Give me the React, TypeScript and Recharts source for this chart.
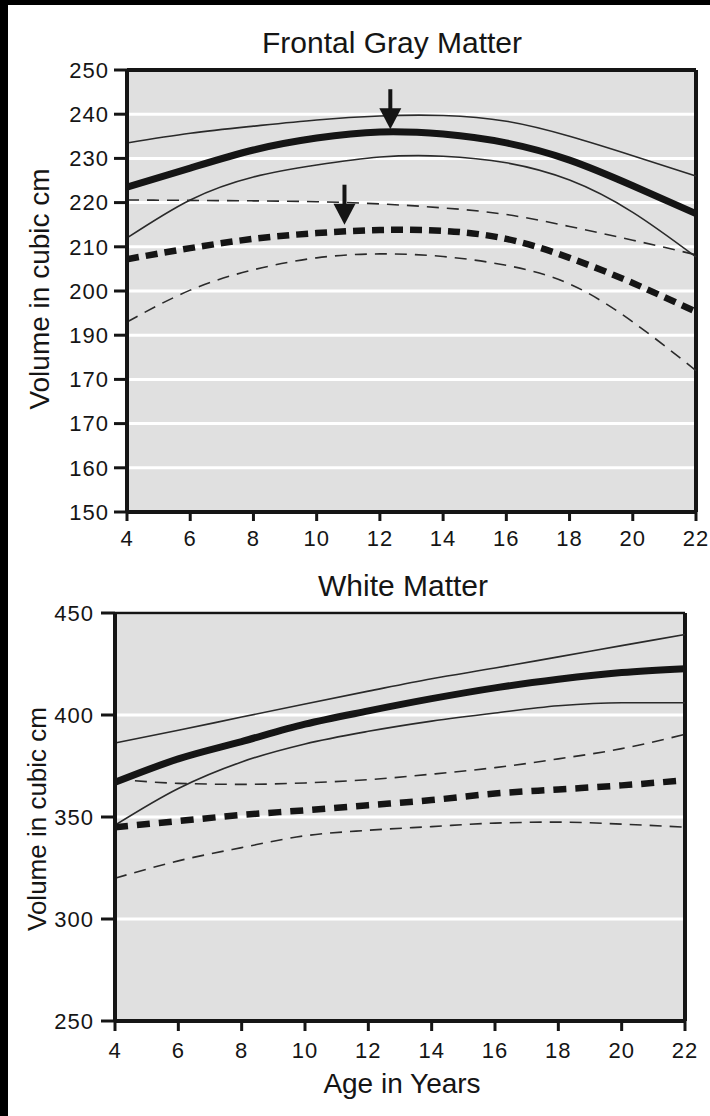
import React from 'react';
import { LineChart, Line, CartesianGrid, XAxis, YAxis, ReferenceLine, ReferenceDot } from 'recharts';

const FONT = '"Liberation Sans", Arial, Helvetica, sans-serif';
const INK = '#151515';

const ages = [4, 6, 8, 10, 12, 14, 16, 18, 20, 22];
const ageTicks = [4, 6, 8, 10, 12, 14, 16, 18, 20, 22];

// Frontal gray matter (cubic cm)
const grayMale = [223.5, 227.8, 231.9, 234.6, 236, 235.5, 233.5, 229.6, 223.8, 217.5];
const grayMaleUpper = [233.5, 235.7, 237.3, 238.7, 239.6, 239.7, 238.4, 235, 230.6, 226];
const grayMaleLower = [212, 220.6, 225.8, 228.5, 230.3, 230.5, 229, 225.1, 217.8, 207.7];
const grayFemale = [207.2, 209.7, 211.8, 213.1, 213.8, 213.6, 211.8, 207.5, 201.8, 195.3];
const grayFemaleUpper = [220.6, 220.5, 220.4, 220.2, 219.7, 218.8, 217.3, 214.6, 211.5, 208.2];
const grayFemaleLower = [193, 200.2, 204.8, 207.5, 208.4, 207.8, 205.8, 201.6, 193, 182];
const grayTicks = [150, 160, 170, 180, 190, 200, 210, 220, 230, 240, 250];
const grayTickLabels = ['150', '160', '170', '170', '190', '200', '210', '220', '230', '240', '250'];
const grayPeakAges = [12.33, 10.88];
const grayPeakValues = [236.6, 215];

// White matter (cubic cm)
const whiteMale = [367, 378.5, 387, 395.5, 402, 408, 413.3, 417.5, 420.8, 422.7];
const whiteMaleUpper = [386.3, 392.5, 399, 405.4, 411.7, 417.8, 423, 428.5, 434, 439.5];
const whiteMaleLower = [346, 364, 377, 385.8, 392, 397, 401, 404.5, 406, 406];
const whiteFemale = [345, 348, 351, 353.3, 355.8, 358.3, 361.5, 363.5, 365.5, 368];
const whiteFemaleUpper = [368.6, 366.5, 366, 366.7, 368.3, 371, 374.2, 378.5, 383.5, 390.5];
const whiteFemaleLower = [320, 328.5, 335, 340.8, 343.5, 345.3, 347, 347.5, 346.5, 345];
const whiteTicks = [250, 300, 350, 400, 450];

const grayData = ages.map((age, i) => ({
  age,
  male: grayMale[i],
  maleUpper: grayMaleUpper[i],
  maleLower: grayMaleLower[i],
  female: grayFemale[i],
  femaleUpper: grayFemaleUpper[i],
  femaleLower: grayFemaleLower[i]
}));

const whiteData = ages.map((age, i) => ({
  age,
  male: whiteMale[i],
  maleUpper: whiteMaleUpper[i],
  maleLower: whiteMaleLower[i],
  female: whiteFemale[i],
  femaleUpper: whiteFemaleUpper[i],
  femaleLower: whiteFemaleLower[i]
}));

const peaks = grayPeakAges.map((age, i) => ({ age, value: grayPeakValues[i] }));

const tickStyle = { fill: INK, fontSize: 22, fontFamily: FONT, letterSpacing: 1 };

const Arrow = (props: any) => {
  const { cx, cy } = props;
  return (
    <g>
      <line x1={cx} y1={cy - 40} x2={cx} y2={cy - 16} stroke={INK} strokeWidth={4} />
      <polygon points={`${cx - 11},${cy - 21} ${cx + 11},${cy - 21} ${cx},${cy}`} fill={INK} />
    </g>
  );
};

const renderLines = (curve: any, thick: number, thickDash: string, thinDash: string) => [
  <Line key="mu" dataKey="maleUpper" type={curve} stroke="#2a2a2a" strokeWidth={1.6} dot={false} isAnimationActive={false} />,
  <Line key="ml" dataKey="maleLower" type={curve} stroke="#2a2a2a" strokeWidth={1.6} dot={false} isAnimationActive={false} />,
  <Line key="fu" dataKey="femaleUpper" type={curve} stroke="#2a2a2a" strokeWidth={1.6} strokeDasharray={thinDash} dot={false} isAnimationActive={false} />,
  <Line key="fl" dataKey="femaleLower" type={curve} stroke="#2a2a2a" strokeWidth={1.6} strokeDasharray={thinDash} dot={false} isAnimationActive={false} />,
  <Line key="m" dataKey="male" type={curve} stroke={INK} strokeWidth={thick} dot={false} isAnimationActive={false} />,
  <Line key="f" dataKey="female" type={curve} stroke={INK} strokeWidth={thick - 0.5} strokeDasharray={thickDash} dot={false} isAnimationActive={false} />
];

const textBase: React.CSSProperties = {
  position: 'absolute',
  fontFamily: FONT,
  color: INK,
  lineHeight: 1,
  whiteSpace: 'nowrap',
  transform: 'translate(-50%, -50%)'
};

const App: React.FC = () => {
  return (
    <div style={{ position: 'relative', width: 710, height: 1116, background: '#000', overflow: 'hidden' }}>
      <style>{'body{margin:0}'}</style>
      <div style={{ position: 'absolute', left: 8, top: 5, right: 0, bottom: 0, background: '#fff' }} />

      <div style={{ ...textBase, left: 392, top: 43, fontSize: 30 }}>Frontal Gray Matter</div>
      <div style={{ ...textBase, left: 40, top: 289, fontSize: 28, transform: 'translate(-50%, -50%) rotate(-90deg)' }}>
        Volume in cubic cm
      </div>

      <div style={{ position: 'absolute', left: 0, top: 0 }}>
        <LineChart width={710} height={570} data={grayData} margin={{ top: 70, right: 14, bottom: 18, left: 67 }}>
          <CartesianGrid vertical={false} fill="#e0e0e0" stroke="#fff" strokeWidth={3} />
          <XAxis
            dataKey="age"
            type="number"
            domain={[4, 22]}
            ticks={ageTicks}
            interval={0}
            height={40}
            axisLine={{ stroke: INK, strokeWidth: 4 }}
            tickLine={{ stroke: INK, strokeWidth: 3 }}
            tickSize={9}
            tickMargin={9}
            tick={tickStyle}
          />
          <YAxis
            type="number"
            domain={[150, 250]}
            ticks={grayTicks}
            interval={0}
            width={60}
            tickFormatter={(v) => grayTickLabels[grayTicks.indexOf(v)]}
            axisLine={{ stroke: INK, strokeWidth: 4 }}
            tickLine={{ stroke: INK, strokeWidth: 3 }}
            tickSize={13}
            tickMargin={5}
            tick={tickStyle}
          />
          <ReferenceLine y={250} stroke={INK} strokeWidth={4} />
          <ReferenceLine x={22} stroke={INK} strokeWidth={4} />
          {renderLines('natural', 7, '12 7', '12 8')}
          {peaks.map((p) => (
            <ReferenceDot key={p.age} x={p.age} y={p.value} shape={Arrow} />
          ))}
        </LineChart>
      </div>

      <div style={{ ...textBase, left: 403, top: 586, fontSize: 30 }}>White Matter</div>
      <div style={{ ...textBase, left: 37, top: 819, fontSize: 26, transform: 'translate(-50%, -50%) rotate(-90deg)' }}>
        Volume in cubic cm
      </div>
      <div style={{ ...textBase, left: 402, top: 1084, fontSize: 28 }}>Age in Years</div>

      <div style={{ position: 'absolute', left: 0, top: 570 }}>
        <LineChart width={710} height={546} data={whiteData} margin={{ top: 43, right: 25, bottom: 55, left: 55 }}>
          <CartesianGrid vertical={false} fill="#e0e0e0" stroke="#fff" strokeWidth={3} />
          <XAxis
            dataKey="age"
            type="number"
            domain={[4, 22]}
            ticks={ageTicks}
            interval={0}
            height={40}
            axisLine={{ stroke: INK, strokeWidth: 4 }}
            tickLine={{ stroke: INK, strokeWidth: 3 }}
            tickSize={10}
            tickMargin={11}
            tick={tickStyle}
          />
          <YAxis
            type="number"
            domain={[250, 450]}
            ticks={whiteTicks}
            interval={0}
            width={60}
            axisLine={{ stroke: INK, strokeWidth: 4 }}
            tickLine={{ stroke: INK, strokeWidth: 3 }}
            tickSize={14}
            tickMargin={7}
            tick={tickStyle}
          />
          <ReferenceLine y={450} stroke={INK} strokeWidth={2.5} />
          <ReferenceLine x={22} stroke={INK} strokeWidth={4} />
          {renderLines('monotone', 7, '13 9', '12 8')}
        </LineChart>
      </div>
    </div>
  );
};

export default App;
